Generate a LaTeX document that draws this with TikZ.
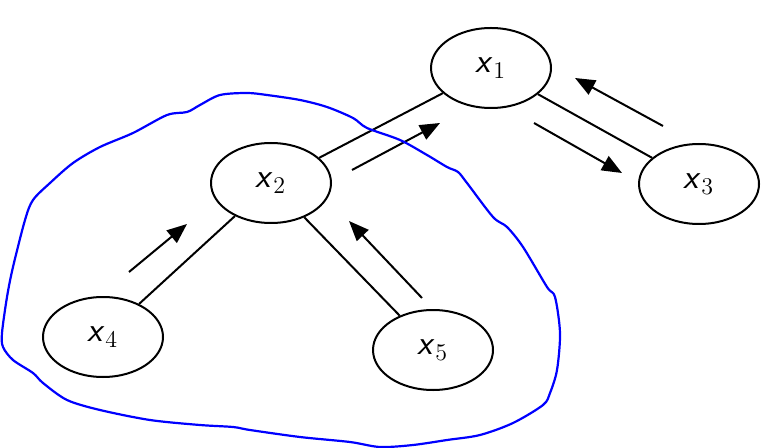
\documentclass[tikz,border=0pt]{standalone}
\usetikzlibrary{shapes.geometric,arrows.meta}
\begin{document}
\begin{tikzpicture}[x=0.5pt,y=-0.5pt,
  var/.style={ellipse,draw,line width=1pt,minimum width=60pt,minimum height=40pt,inner sep=0pt,font=\LARGE},
  edge/.style={line width=1pt},
  flow/.style={line width=1pt,-{Triangle[length=10pt,width=8pt]}},
  hull/.style={draw=blue,line width=1.1pt}]
\useasboundingbox (0,0) rectangle (779,448);
\node[var] (x1) at (491,68) {$\textsf{\textsl{x}}_1$};
\node[var] (x2) at (271,183) {$\textsf{\textsl{x}}_2$};
\node[var] (x3) at (699,184) {$\textsf{\textsl{x}}_3$};
\node[var] (x4) at (103,337) {$\textsf{\textsl{x}}_4$};
\node[var] (x5) at (433,350) {$\textsf{\textsl{x}}_5$};
\draw[edge] (x2) -- (x1);
\draw[edge] (x1) -- (x3);
\draw[edge] (x2) -- (x4);
\draw[edge] (x2) -- (x5);
\coordinate (a21s) at (352,170); \coordinate (a21t) at (440,123);
\coordinate (a31s) at (663,126); \coordinate (a31t) at (575,78);
\coordinate (a13s) at (534,123); \coordinate (a13t) at (622,173);
\coordinate (a42s) at (129,272); \coordinate (a42t) at (187,224);
\coordinate (a52s) at (422,298); \coordinate (a52t) at (349,221);
\draw[flow] (a21s) -- (a21t);
\draw[flow] (a31s) -- (a31t);
\draw[flow] (a13s) -- (a13t);
\draw[flow] (a42s) -- (a42t);
\draw[flow] (a52s) -- (a52t);
\draw[hull] plot[smooth cycle,tension=0.5] coordinates {
 (247,93) (267,95) (300,100) (327,107) (353,118) (367,128) (400,140) (427,155)
 (447,167) (458,172) (467,183) (493,217) (507,227) (523,247) (547,287) (555,297)
 (560,333) (557,370) (550,393) (543,405) (513,423) (480,435) (447,440) (413,445)
 (380,447) (350,442) (300,437) (250,430) (233,427) (200,425) (150,420) (100,410)
 (67,400) (43,383) (33,373) (13,360) (3,347) (2,333) (7,297) (13,267) (25,220)
 (33,200) (50,183) (73,163) (100,147) (133,133) (167,115) (187,112) (200,105)
 (220,95)};
\end{tikzpicture}
\end{document}
